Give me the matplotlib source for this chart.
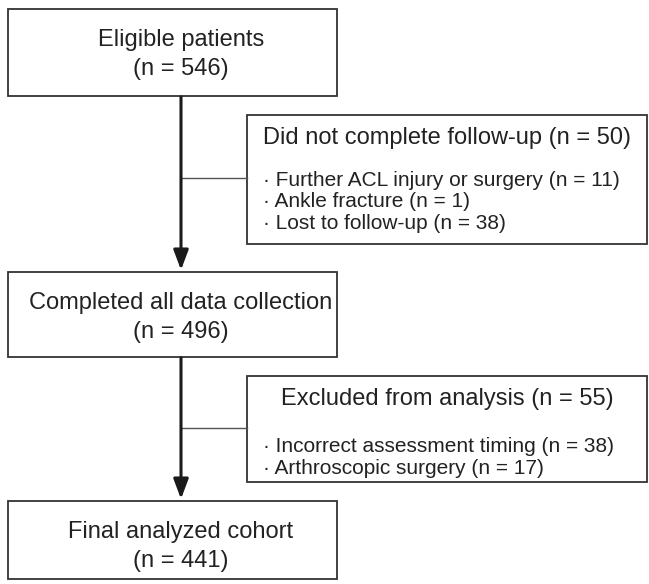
import matplotlib.pyplot as plt
from matplotlib.patches import Rectangle

# flow chart content
main_titles = ["Eligible patients", "Completed all data collection", "Final analyzed cohort"]
main_counts = [546, 496, 441]
side_titles = ["Did not complete follow-up", "Excluded from analysis"]
side_counts = [50, 55]
side_items = [
    ["Further ACL injury or surgery", "Ankle fracture", "Lost to follow-up"],
    ["Incorrect assessment timing", "Arthroscopic surgery"],
]
side_item_counts = [[11, 1, 38], [38, 17]]

plt.rcParams['font.family'] = ['Liberation Sans', 'DejaVu Sans']

W, H = 649, 584
fig = plt.figure(figsize=(W / 100, H / 100), dpi=100)
ax = fig.add_axes([0, 0, 1, 1])
ax.set_xlim(0, W)
ax.set_ylim(H, 0)
ax.axis('off')

edge = '#333333'
txt = '#222222'

# main boxes (pixel layout: top, bottom)
main_x0, main_x1 = 8, 337
main_y = [(9, 96), (272, 357), (501, 579)]
cx = 181

for (y0, y1), title, n in zip(main_y, main_titles, main_counts):
    ax.add_patch(Rectangle((main_x0, y0), main_x1 - main_x0, y1 - y0,
                           fill=False, ec=edge, lw=1.3))
    ax.text(cx, y0 + 31, title, ha='center', va='center', fontsize=17, color=txt)
    ax.text(cx, y0 + 60, f"(n = {n})", ha='center', va='center', fontsize=17, color=txt)

# arrows between main boxes
for i in range(len(main_y) - 1):
    ax.annotate('', xy=(cx, main_y[i + 1][0] - 2), xytext=(cx, main_y[i][1] + 1),
                arrowprops=dict(arrowstyle='-|>,head_length=1.2,head_width=0.45',
                                lw=2.2, color='#1a1a1a', shrinkA=0, shrinkB=0))

# side boxes
side_x0, side_x1 = 247, 647
side_y = [(115, 244), (376, 482)]
side_conn = [178, 428]

for k in range(len(side_titles)):
    y0, y1 = side_y[k]
    ax.add_patch(Rectangle((side_x0, y0), side_x1 - side_x0, y1 - y0,
                           fill=False, ec=edge, lw=1.3))
    ax.plot([cx, side_x0], [side_conn[k], side_conn[k]], color='#555555', lw=1.0)
    ax.text((side_x0 + side_x1) / 2, y0 + 23, f"{side_titles[k]} (n = {side_counts[k]})",
            ha='center', va='center', fontsize=17, color=txt)
    first = y0 + 65 if k == 0 else y0 + 71
    for j, (item, n) in enumerate(zip(side_items[k], side_item_counts[k])):
        ax.text(side_x0 + 16, first + j * 21.7, f"\u00b7 {item} (n = {n})",
                ha='left', va='center', fontsize=15, color=txt)

fig.savefig('out.png', dpi=100)
